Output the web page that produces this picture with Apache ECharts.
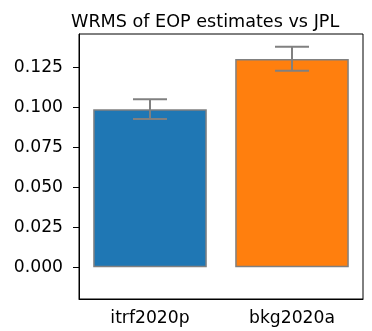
<!DOCTYPE html>
<html>
<head>
<meta charset="utf-8">
<script src="https://cdn.jsdelivr.net/npm/echarts@6/dist/echarts.min.js"></script>
<style>
html,body{margin:0;padding:0;background:#fff;}
#chart{width:372px;height:331px;}
</style>
</head>
<body>
<div id="chart"></div>
<script>
const categories = ['itrf2020p', 'bkg2020a'];
const wrmsValues = [0.0988, 0.1302];
const errLow = [0.0927, 0.1229];
const errHigh = [0.1050, 0.1379];
const yTicks = [0, 0.025, 0.05, 0.075, 0.1, 0.125];
const barColors = ['#1f77b4', '#ff7f0e'];

const chart = echarts.init(document.getElementById('chart'));
const font = 'DejaVu Sans';
chart.setOption({
  animation: false,
  backgroundColor: '#fff',
  title: {
    text: 'WRMS of EOP estimates vs JPL',
    left: 66,
    top: 8,
    textStyle: { fontFamily: font, fontSize: 17.6, fontWeight: 'normal', color: '#000' }
  },
  grid: {
    left: 79, right: 9, top: 34, bottom: 32,
    show: true, borderColor: '#000', borderWidth: 1, backgroundColor: 'transparent'
  },
  xAxis: {
    type: 'category',
    data: categories,
    boundaryGap: true,
    axisLine: { onZero: false, lineStyle: { color: '#000', width: 1 } },
    axisTick: { alignWithLabel: true, length: 6, lineStyle: { color: '#000' } },
    axisLabel: { margin: 11, fontFamily: font, fontSize: 17.2, color: '#000' },
    splitLine: { show: false }
  },
  yAxis: {
    type: 'value',
    min: -0.0198,
    max: 0.1458,
    axisLine: { show: true, lineStyle: { color: '#000', width: 1 } },
    axisTick: { show: true, length: 6, lineStyle: { color: '#000' }, customValues: yTicks },
    axisLabel: {
      margin: 16, fontFamily: font, fontSize: 17.2, color: '#000',
      customValues: yTicks,
      formatter: v => v.toFixed(3)
    },
    splitLine: { show: false }
  },
  series: [
    {
      type: 'bar',
      barWidth: '80%',
      data: wrmsValues.map((v, i) => ({
        value: v,
        itemStyle: { color: barColors[i], borderColor: '#808080', borderWidth: 1.5 }
      }))
    },
    {
      type: 'custom',
      data: categories.map((c, i) => [i, errLow[i], errHigh[i]]),
      renderItem: function (params, api) {
        const x = api.value(0);
        const lo = api.coord([x, api.value(1)]);
        const hi = api.coord([x, api.value(2)]);
        const half = 17;
        const st = { stroke: '#808080', lineWidth: 2 };
        return {
          type: 'group',
          children: [
            { type: 'line', shape: { x1: lo[0], y1: lo[1], x2: hi[0], y2: hi[1] }, style: st },
            { type: 'line', shape: { x1: lo[0] - half, y1: lo[1], x2: lo[0] + half, y2: lo[1] }, style: st },
            { type: 'line', shape: { x1: hi[0] - half, y1: hi[1], x2: hi[0] + half, y2: hi[1] }, style: st }
          ]
        };
      },
      z: 10
    }
  ]
});
</script>
</body>
</html>
